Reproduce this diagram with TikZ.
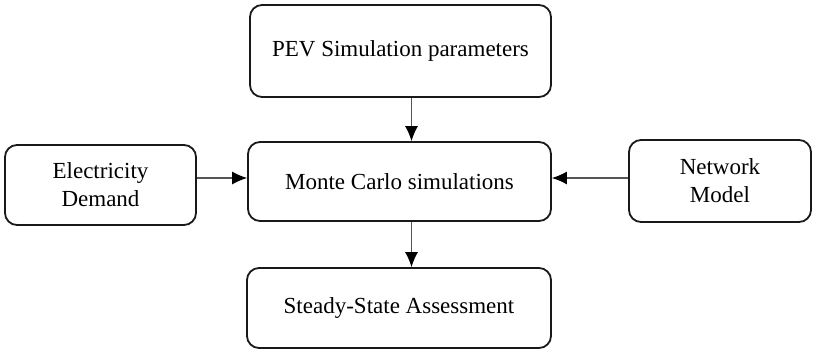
\documentclass[tikz,border=0pt]{standalone}
\usepackage{fontspec}
\setmainfont{Liberation Serif}
\usepackage{xcolor}
\definecolor{boxline}{RGB}{25, 25, 25}
\definecolor{arrline}{RGB}{85, 85, 85}
\usetikzlibrary{arrows.meta, positioning, calc}

\begin{document}
\begin{tikzpicture}[x=1pt, y=1pt,
        block/.style={rectangle, draw=boxline, line width=1.8pt, rounded corners=12pt, align=center, inner sep=0pt, font=\fontsize{23}{28}\selectfont},
        line/.style={draw=arrline, line width=1.2pt, -{Latex[length=15pt, width=13pt, color=black]}}]

        \useasboundingbox (0,0) rectangle (814,-350);

        \node [block, minimum width=303pt, minimum height=79pt] (mc) at (399.5,-181.5) {Monte Carlo simulations};
        \node [block, minimum width=301pt, minimum height=92pt] (pev) at (400.5,-51) {PEV Simulation parameters};
        \node [block, minimum width=304pt, minimum height=80pt] (ssa) at (399,-308) {Steady-State Assessment};
        \node [block, minimum width=191pt, minimum height=80pt] (elec) at (100.5,-185) {Electricity\\Demand};
        \node [block, minimum width=182pt, minimum height=82pt] (net) at (720,-181) {Network\\Model};

        \path [line] ([xshift=11pt]pev.south) -- ([xshift=11pt]pev.south |- mc.north);
        \path [line] ([xshift=12pt]mc.south) -- ([xshift=12pt]mc.south |- ssa.north);
        \path [line] ([yshift=7pt]elec.east) -- ([yshift=7pt]elec.east -| mc.west);
        \path [line] ([yshift=3pt]net.west) -- ([yshift=3pt]net.west -| mc.east);
    \end{tikzpicture}
\end{document}
